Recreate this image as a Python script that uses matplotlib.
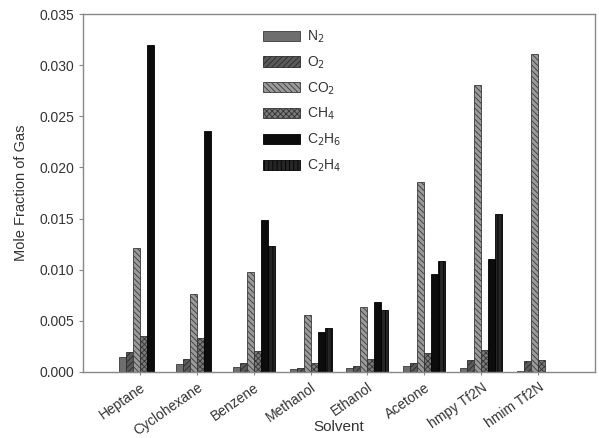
import numpy as np
import matplotlib
matplotlib.use("Agg")
import matplotlib.pyplot as plt

plt.rcParams['font.family'] = ['Liberation Sans', 'DejaVu Sans']
plt.rcParams['hatch.linewidth'] = 0.6

solvents = ["Heptane", "Cyclohexane", "Benzene", "Methanol", "Ethanol",
            "Acetone", "hmpy Tf2N", "hmim Tf2N"]
gases = ["N$_2$", "O$_2$", "CO$_2$", "CH$_4$", "C$_2$H$_6$", "C$_2$H$_4$"]

n2   = [0.00143, 0.00078, 0.00049, 0.00030, 0.00040, 0.00055, 0.00036, 0.00010]
o2   = [0.00195, 0.00130, 0.00088, 0.00042, 0.00060, 0.00088, 0.00114, 0.00110]
co2  = [0.0121, 0.00764, 0.00975, 0.00562, 0.0064, 0.0186, 0.0281, 0.0311]
ch4  = [0.00348, 0.00328, 0.0021, 0.00088, 0.0013, 0.00185, 0.00218, 0.00114]
c2h6 = [0.0320, 0.0236, 0.01485, 0.00387, 0.00686, 0.0096, 0.01105, np.nan]
c2h4 = [np.nan, np.nan, 0.01235, 0.00432, 0.0061, 0.0109, 0.01545, np.nan]

series = [n2, o2, co2, ch4, c2h6, c2h4]
faces = ["#6e6e6e", "#5a5a5a", "#9a9a9a", "#7a7a7a", "#0c0c0c", "#262626"]
hatches = [None, "//////", "\\\\\\\\\\\\", "xxxxxx", None, "||||"]
edges = ["#3a3a3a", "#2a2a2a", "#3a3a3a", "#333333", "#000000", "#000000"]

fig = plt.figure(figsize=(5.99, 4.38), dpi=100)
ax = fig.add_axes([0.1386, 0.1507, 0.9933 - 0.1386, 0.968 - 0.1507])

x = np.arange(len(solvents))
w = 0.123
for i, (vals, fc, h, ec, lab) in enumerate(zip(series, faces, hatches, edges, gases)):
    ax.bar(x - 3 * w + (i + 0.5) * w, vals, width=w, color=fc, hatch=h,
           edgecolor=ec, linewidth=0.6, label=lab)

ax.set_xlim(-1, 8)
ax.set_ylim(0, 0.035)
ax.set_yticks(np.arange(0, 0.0351, 0.005))
ax.set_yticklabels([f"{v:.3f}" for v in np.arange(0, 0.0351, 0.005)])
ax.set_xticks(x)
ax.set_xticklabels(solvents, rotation=35, ha='right', rotation_mode='anchor')

for s in ax.spines.values():
    s.set_color('#888888')
    s.set_linewidth(1.0)
ax.tick_params(axis='both', colors='#888888', labelcolor='#333333', labelsize=10, length=3)
ax.tick_params(axis='x', length=2, pad=4)

ax.set_ylabel("Mole Fraction of Gas", fontsize=10.5, color='#333333', labelpad=8)
ax.set_xlabel("Solvent", fontsize=11, color='#333333')
ax.xaxis.set_label_coords(0.5, -0.135)

leg = ax.legend(loc='upper left', bbox_to_anchor=(0.34, 0.975), frameon=False,
                fontsize=10, handlelength=2.7, handleheight=0.75,
                labelspacing=0.68, handletextpad=0.5, borderaxespad=0)
for t in leg.get_texts():
    t.set_color('#333333')

fig.savefig("out.png", dpi=100)
